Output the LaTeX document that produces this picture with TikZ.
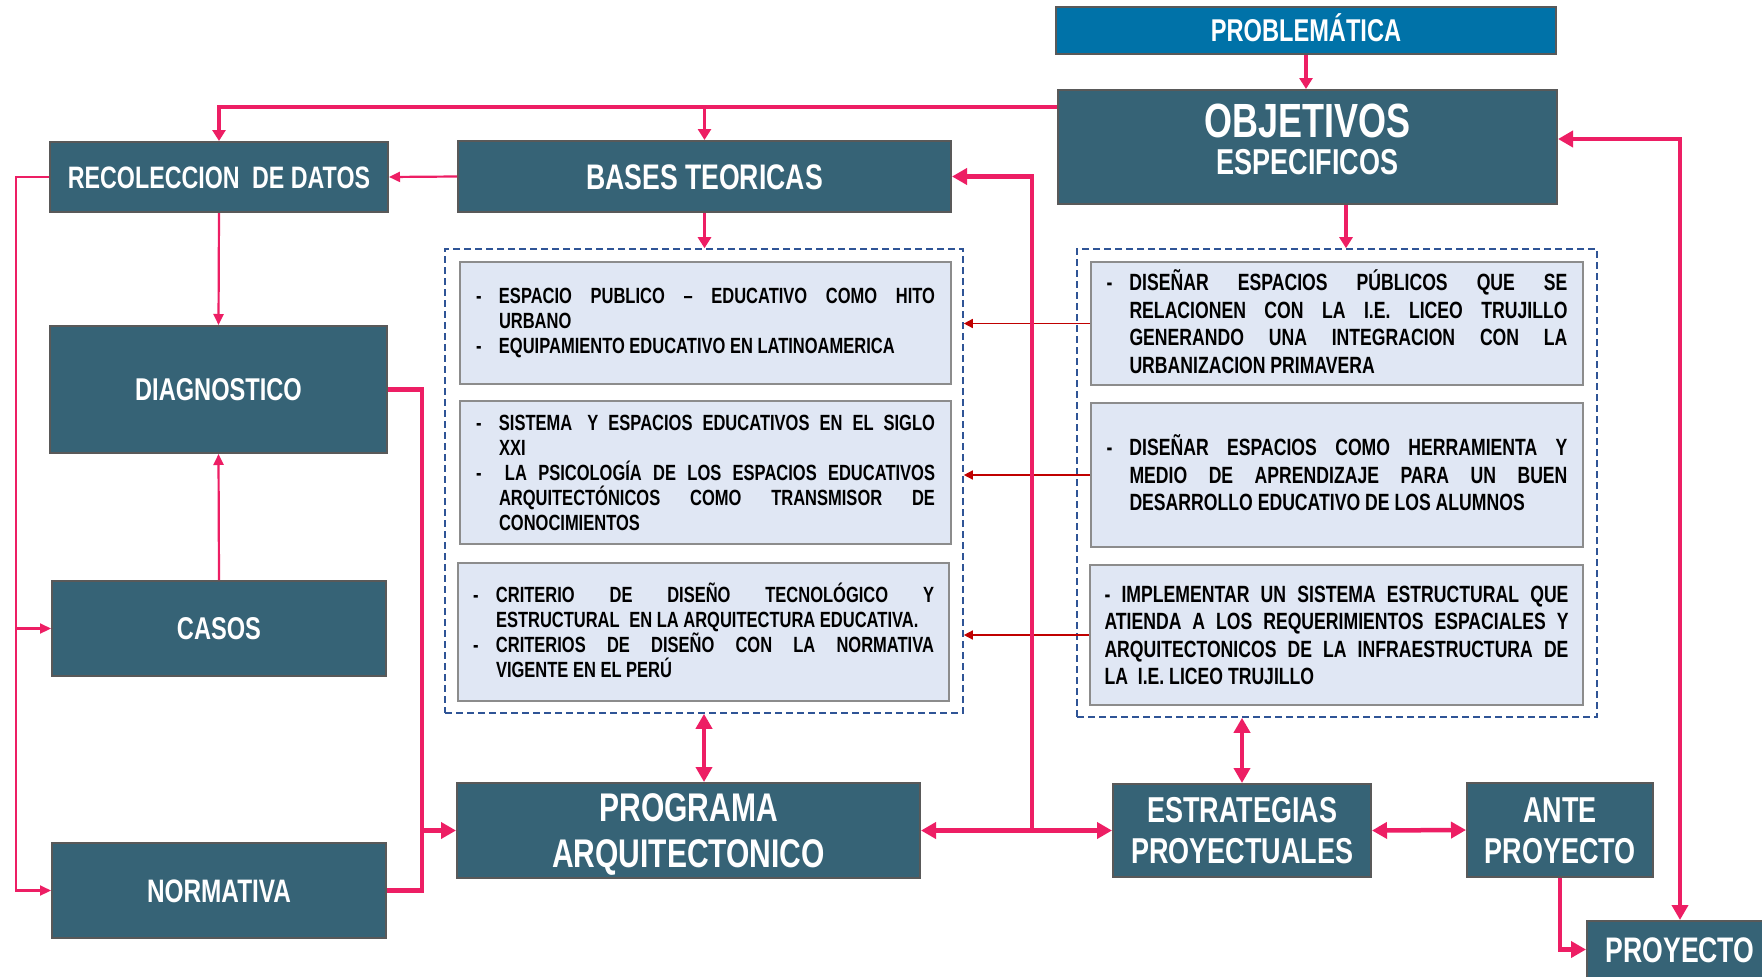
\documentclass[tikz,border=0pt]{standalone}
\usepackage{fontspec}
\setmainfont{Liberation Sans}[FakeStretch=0.75]
\usetikzlibrary{arrows.meta,calc}

\definecolor{boxteal}{RGB}{54,99,118}
\definecolor{boxedge}{RGB}{89,89,89}
\definecolor{probblue}{RGB}{0,114,168}
\definecolor{linkpink}{RGB}{237,30,100}
\definecolor{notefill}{RGB}{224,231,244}
\definecolor{noteedge}{RGB}{140,140,140}
\definecolor{framedash}{RGB}{47,84,150}
\definecolor{linkred}{RGB}{192,0,0}

%% justified text block of a note box, with forced breaks
\newcommand{\notetext}[2]{\begin{minipage}[t]{#1}\rightskip=0pt\leftskip=0pt\parindent=0pt
  \tolerance=10000\hbadness=10000\frenchspacing #2\end{minipage}}
%% one item of a note box: dash and hanging text
\newcommand{\itm}[2][23pt]{\hangindent=#1\hangafter=1\noindent\makebox[#1][l]{-}#2\par}

\begin{document}
\begin{tikzpicture}
[x=1pt,y=-1pt,%
 tealbox/.style={draw=boxedge,line width=2pt,fill=boxteal,text=white,inner sep=0pt,align=center},%
 boxfont/.style={font=\fontsize{#1}{#1}\selectfont\bfseries,text height={0.716*#1pt},text depth=0pt},%
 notebox/.style={draw=noteedge,line width=2pt,fill=notefill,text=black,inner sep=0pt},%
 leftnote/.style={notebox,font=\fontsize{22}{25}\selectfont\bfseries,text height=15.75pt},%
 rightnote/.style={notebox,font=\fontsize{23.5}{27.5}\selectfont\bfseries,text height=16.8pt},%
 framebox/.style={draw=framedash,line width=1.6pt,dash pattern=on 7pt off 4pt},%
 thinlink/.style={draw=linkpink,line width=2.2pt},%
 thinarrow/.style={thinlink,-{Triangle[length=11pt,width=10pt]}},%
 midarrow/.style={draw=linkpink,line width=3.2pt,-{Triangle[length=11pt,width=13pt]}},%
 thicklink/.style={draw=linkpink,line width=4.5pt},%
 thickarrow/.style={thicklink,-{Triangle[length=15pt,width=16pt]}},%
 thickboth/.style={thicklink,{Triangle[length=15pt,width=16pt]}-{Triangle[length=15pt,width=16pt]}},%
 notearrow/.style={draw=linkred,line width=1.5pt,-{Triangle[length=9pt,width=9pt]}}]
\fill[white] (0,0) rectangle (1762,977);
\useasboundingbox (0,0) rectangle (1762,977);

%% dashed frames
\node[framebox,minimum width=518pt,minimum height=464pt] (lframe) at (704,481) {};
\node[framebox,minimum width=520pt,minimum height=468pt] (rframe) at (1337,483) {};

%% top boxes
\node[tealbox,boxfont=31.5,fill=probblue,minimum width=500pt,minimum height=47pt] (prob) at (1306,30.5) {PROBLEMÁTICA};
\node[tealbox,font=\fontsize{48}{37}\selectfont\bfseries,text height=54pt,text depth=0pt,
  minimum width=499pt,minimum height=114pt] (obj) at (1307.5,147)
  {OBJETIVOS\\{\fontsize{36}{37}\selectfont ESPECIFICOS}};
\node[tealbox,boxfont=31,minimum width=338pt,minimum height=70pt] (reco) at (219,177) {RECOLECCION\hspace{6pt} DE DATOS};
\node[tealbox,boxfont=35.5,minimum width=493pt,minimum height=71pt] (bases) at (704.5,176.5) {BASES TEORICAS};

%% left column
\node[tealbox,boxfont=31.5,minimum width=337pt,minimum height=127pt] (diag) at (218.5,389.5) {DIAGNOSTICO};
\node[tealbox,boxfont=31.5,minimum width=334pt,minimum height=95pt] (casos) at (219,628.5) {CASOS};
\node[tealbox,boxfont=32.5,minimum width=334pt,minimum height=95pt] (norm) at (219,890.5) {NORMATIVA};

%% bottom row
\node[tealbox,font=\fontsize{40}{46}\selectfont\bfseries,text height=73pt,text depth=0pt,
  minimum width=463pt,minimum height=95pt] (prog) at (688.5,830.5) {PROGRAMA\\ARQUITECTONICO};
\node[tealbox,font=\fontsize{36}{41}\selectfont\bfseries,text height=65pt,text depth=0pt,
  minimum width=258pt,minimum height=93pt] (estr) at (1242,830.5) {ESTRATEGIAS\\PROYECTUALES};
\node[tealbox,font=\fontsize{36}{41}\selectfont\bfseries,text height=66pt,text depth=0pt,
  minimum width=186pt,minimum height=94pt] (ante) at (1560,830) {ANTE\\PROYECTO};
\node[tealbox,boxfont=35.5,minimum width=186pt,minimum height=57pt] (proy) at (1680,949.5) {PROYECTO};

%% note boxes, left frame
\node[leftnote,minimum width=491pt,minimum height=122pt] (lb1) at (705.5,323)
  {\notetext{459pt}{\itm{ESPACIO PUBLICO – EDUCATIVO COMO HITO\linebreak URBANO}
   \itm{EQUIPAMIENTO EDUCATIVO EN LATINOAMERICA}}};
\node[leftnote,minimum width=491pt,minimum height=143pt] (lb2) at (705.5,472.5)
  {\notetext{459pt}{\itm{SISTEMA\hspace{5pt} Y ESPACIOS EDUCATIVOS EN EL SIGLO\linebreak XXI}
   \itm{\hspace{6pt}LA PSICOLOGÍA DE LOS ESPACIOS EDUCATIVOS\linebreak ARQUITECTÓNICOS COMO TRANSMISOR DE\linebreak CONOCIMIENTOS}}};
\node[leftnote,minimum width=491pt,minimum height=138pt] (lb3) at (703.5,632)
  {\notetext{461pt}{\itm{CRITERIO DE DISEÑO TECNOLÓGICO Y\linebreak ESTRUCTURAL\hspace{5pt} EN LA ARQUITECTURA EDUCATIVA.}
   \itm{CRITERIOS DE DISEÑO CON LA NORMATIVA\linebreak VIGENTE EN EL PERÚ}}};

%% note boxes, right frame
\node[rightnote,minimum width=492pt,minimum height=123pt] (rb1) at (1337,323.5)
  {\notetext{461pt}{\itm{DISEÑAR ESPACIOS PÚBLICOS QUE SE\linebreak RELACIONEN CON LA I.E. LICEO TRUJILLO\linebreak GENERANDO UNA INTEGRACION CON LA\linebreak URBANIZACION PRIMAVERA}}};
\node[rightnote,minimum width=492pt,minimum height=144pt] (rb2) at (1337,475)
  {\notetext{461pt}{\itm{DISEÑAR ESPACIOS COMO HERRAMIENTA Y\linebreak MEDIO DE APRENDIZAJE PARA UN BUEN\linebreak DESARROLLO EDUCATIVO DE LOS ALUMNOS}}};
\node[rightnote,minimum width=493pt,minimum height=140pt] (rb3) at (1336.5,635)
  {\notetext{464pt}{\noindent- IMPLEMENTAR UN SISTEMA ESTRUCTURAL QUE\linebreak ATIENDA A LOS REQUERIMIENTOS ESPACIALES Y\linebreak ARQUITECTONICOS DE LA INFRAESTRUCTURA DE\linebreak LA\hspace{5pt} I.E. LICEO TRUJILLO\par}};

%% problematica to objetivos
\draw[midarrow] (prob.south) -- (prob.south |- obj.north);
%% objetivos to recoleccion and bases teoricas
\coordinate (objleft) at ($(obj.north west)+(0,18)$);
\draw[midarrow] (objleft) -| (reco.north);
\draw[midarrow] (objleft -| bases.north) -- (bases.north);
%% left column links
\draw[thinarrow] (bases.west) -- (reco.east);
\draw[thinarrow] (reco.south) -- (diag.north);
\draw[thinarrow] (casos.north) -- (diag.south);
\coordinate (leftbus) at ($(reco.west)+(-33,0)$);
\draw[thinarrow] (reco.west) -- (leftbus) |- (norm.west);
\draw[thinarrow] (leftbus |- casos.west) -- (casos.west);
%% diagnostico and normativa to programa
\coordinate (midbus) at ($(diag.east)+(34,0)$);
\draw[thicklink] (diag.east) -- (midbus) |- (norm.east);
\draw[thickarrow] (midbus |- prog.west) -- (prog.west);
%% into the frames
\draw[midarrow] (bases.south) -- (bases.south |- lframe.north);
\coordinate (objdrop) at ($(rframe.north)+(9,0)$);
\draw[midarrow] (obj.south -| objdrop) -- (objdrop);
\foreach \n in {1,2,3}
  \draw[notearrow] (rb\n.west) -- (rb\n.west -| lframe.east);
%% frames to bottom row
\draw[thickboth] (lframe.south) -- (lframe.south |- prog.north);
\draw[thickboth] (estr.north |- rframe.south) -- (estr.north);
%% bottom row
\coordinate (junc) at (1032,830.5);
\draw[thickboth] (prog.east) -- (estr.west);
\draw[thickarrow] (junc) |- (bases.east);
\draw[thickboth] (estr.east) -- (ante.west);
\draw[thickarrow] (ante.south) |- (proy.west);
%% right loop
\draw[thickboth] ($(obj.east)+(0,-8)$) -| (proy.north);
\end{tikzpicture}
\end{document}
